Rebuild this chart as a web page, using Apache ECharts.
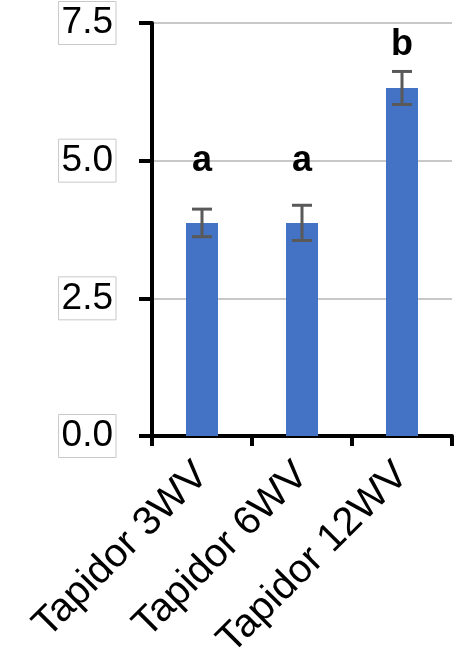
<!DOCTYPE html>
<html>
<head>
<meta charset="utf-8">
<script src="https://cdn.jsdelivr.net/npm/echarts@6/dist/echarts.min.js"></script>
<style>html,body{margin:0;padding:0;background:#fff}#c{width:469px;height:667px}</style>
</head>
<body>
<div id="c"></div>
<script>
var categories = ['Tapidor 3WV', 'Tapidor 6WV', 'Tapidor 12WV'];
var means = [3.87, 3.87, 6.32];
var errors = [0.25, 0.32, 0.30];
var letters = ['a', 'a', 'b'];
var letterLevels = [5.0, 5.0, 7.1];
var yTicks = [0, 2.5, 5, 7.5];

var FONT = 'Liberation Sans, Arial, sans-serif';
var chart = echarts.init(document.getElementById('c'), null, {renderer: 'canvas'});

var errData = means.map(function (m, i) { return [i, m - errors[i], m + errors[i]]; });
var letterData = letters.map(function (l, i) { return [i, letterLevels[i], l]; });

chart.setOption({
  animation: false,
  grid: {left: 152, right: 17, top: 23, bottom: 231, containLabel: false},
  xAxis: {
    type: 'category',
    data: categories,
    boundaryGap: true,
    axisLine: {lineStyle: {color: '#000', width: 4}},
    axisTick: {show: true, alignWithLabel: false, length: 10, lineStyle: {color: '#000', width: 4}},
    axisLabel: {rotate: 45, margin: 33, fontSize: 40, color: '#000', fontFamily: FONT, interval: 0}
  },
  yAxis: {
    type: 'value',
    min: 0, max: 7.5, interval: 2.5,
    axisLine: {show: true, lineStyle: {color: '#000', width: 4}},
    axisTick: {show: true, length: 13, lineStyle: {color: '#000', width: 4}},
    splitLine: {show: true, lineStyle: {color: '#c8c8c8', width: 2}},
    axisLabel: {
      margin: 36, fontSize: 37, color: '#000', fontFamily: FONT,
      borderColor: '#c8c8c8', borderWidth: 1, padding: [3, 3, 3, 3],
      formatter: function (v) { return v.toFixed(1); }
    }
  },
  series: [
    {
      type: 'bar',
      data: means,
      barWidth: '32%',
      itemStyle: {color: '#4472C4'},
      z: 2
    },
    {
      type: 'custom',
      data: errData,
      z: 3,
      renderItem: function (params, api) {
        var x = api.coord([api.value(0), 0])[0];
        var lo = api.coord([api.value(0), api.value(1)])[1];
        var hi = api.coord([api.value(0), api.value(2)])[1];
        var hw = 10;
        var st = {stroke: '#595959', lineWidth: 3};
        return {type: 'group', children: [
          {type: 'line', shape: {x1: x, y1: lo, x2: x, y2: hi}, style: st},
          {type: 'line', shape: {x1: x - hw, y1: lo, x2: x + hw, y2: lo}, style: st},
          {type: 'line', shape: {x1: x - hw, y1: hi, x2: x + hw, y2: hi}, style: st}
        ]};
      }
    },
    {
      type: 'custom',
      data: letterData,
      z: 4,
      renderItem: function (params, api) {
        var p = api.coord([api.value(0), api.value(1)]);
        return {type: 'text', x: p[0], y: p[1], style: {
          text: letters[params.dataIndex], fontSize: 36, fontWeight: 'bold',
          fontFamily: FONT, fill: '#000', align: 'center', verticalAlign: 'middle'
        }};
      }
    }
  ]
});
</script>
</body>
</html>
